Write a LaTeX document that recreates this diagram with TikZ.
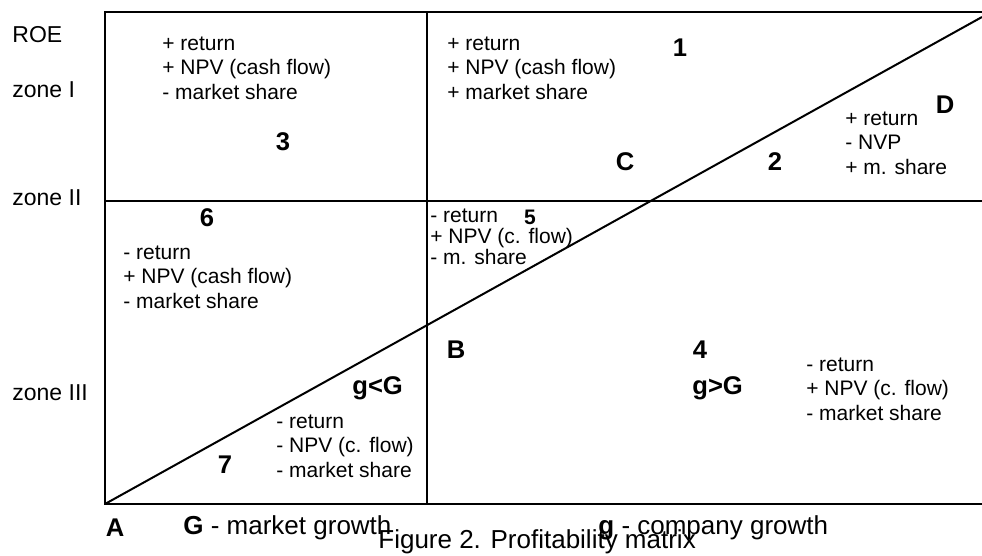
\documentclass[tikz,border=0pt]{standalone}
\usepackage{fontspec}
\setmainfont{Liberation Sans}
\usepackage{tikz}

\begin{document}
\begin{tikzpicture}[x=0.5pt, y=-0.5pt,
  grid/.style={line width=1pt, black},
  cell/.style={anchor=west, align=left, inner sep=0pt,
               font=\fontsize{10.5}{12.3}\selectfont},
  tight/.style={cell, font=\fontsize{10.5}{10.6}\selectfont},
  zone/.style={anchor=west, inner sep=0pt, font=\fontsize{11.5}{13}\selectfont},
  tag/.style={inner sep=0pt, font=\fontsize{12.8}{15}\selectfont\bfseries},
  axis/.style={anchor=west, inner sep=0pt, font=\fontsize{13}{15}\selectfont}
]
\clip (0,0) rectangle (982,556);

% matrix frame
\coordinate (A) at (105,504);
\coordinate (topL) at (105,12);
\coordinate (botR) at (995,504);
\coordinate (midT) at (427,12);
\coordinate (midB) at (427,504);
\coordinate (midL) at (105,201);
\coordinate (midR) at (995,201);
\coordinate (diagEnd) at (982,17);

\draw[grid] (topL) rectangle (botR);
\draw[grid] (midT) -- (midB);
\draw[grid] (midL) -- (midR);
\draw[grid] (A) -- (diagEnd);

% vertical axis
\node[zone] (roe) at (12,35) {ROE};
\node[zone] (zoneI) at (12,90) {zone I};
\node[zone] (zoneII) at (12,198) {zone II};
\node[zone] (zoneIII) at (12,393) {zone III};

% cells
\node[cell] (c3) at (162,68) {+ return\\+ NPV (cash flow)\\- market share};
\node[cell] (c1) at (447,68) {+ return\\+ NPV (cash flow)\\+ market share};
\node[cell] (c2) at (845,143) {+ return\\- NVP\\+ m. share};
\node[tight] (c5) at (430,237) {- return\\+ NPV (c. flow)\\- m. share};
\node[cell] (c6) at (123,277) {- return\\+ NPV (cash flow)\\- market share};
\node[cell] (c4) at (806,389) {- return\\+ NPV (c. flow)\\- market share};
\node[cell] (c7) at (276,446) {- return\\- NPV (c. flow)\\- market share};

% numbers and points
\node[tag] (n1) at (680,48) {1};
\node[tag] (n2) at (775,162) {2};
\node[tag] (n3) at (283,142) {3};
\node[tag] (n4) at (700,350) {4};
\node[tag, font=\fontsize{10.5}{12}\selectfont\bfseries] (n5) at (530,217) {5};
\node[tag] (n6) at (207,218) {6};
\node[tag] (n7) at (225,465) {7};
\node[tag] (ptA) at (115,528) {A};
\node[tag] (ptB) at (456,350) {B};
\node[tag] (ptC) at (625,162) {C};
\node[tag] (ptD) at (945,105) {D};
\node[tag, anchor=west] (lessG) at (352,388) {g<G};
\node[tag, anchor=west] (moreG) at (692,388) {g>G};

% horizontal axis and caption
\node[axis] (mgrowth) at (183,528) {\textbf{G} - market growth};
\node[axis] (cgrowth) at (598,528) {\textbf{g} - company growth};
\node[axis] (caption) at (378,542) {Figure 2. Profitability matrix};

\end{tikzpicture}
\end{document}
